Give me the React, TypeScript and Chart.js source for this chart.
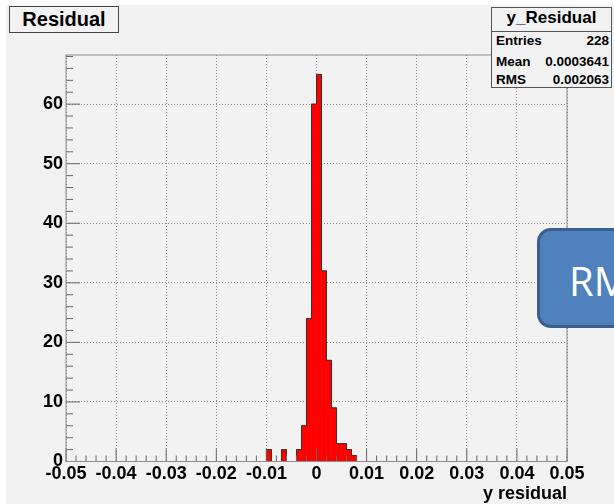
import React, { useEffect, useRef } from "react";
import { Chart, registerables } from "chart.js";

Chart.register(...registerables);

// ---- Data ----
const binLowEdges = [-0.010, -0.007, -0.004, -0.003, -0.002, -0.001, 0.000, 0.001, 0.002, 0.003, 0.004, 0.005, 0.006, 0.007];
const binCounts = [2, 2, 2, 6, 24, 60, 65, 32, 17, 9, 3, 3, 2, 1];
const binWidth = 0.001;
const xMin = -0.05;
const xMax = 0.05;
const yMax = 68.25;
const histTitle = "Residual";
const statsName = "y_Residual";
const statsLabels = ["Entries", "Mean", "RMS"];
const statsValues = ["228", "0.0003641", "0.002063"];
const xAxisTitle = "y residual";
const calloutText = "RMS";

const FONT = "'Liberation Sans', Arial, Helvetica, sans-serif";

function buildOutline() {
  const pts: { x: number; y: number | null }[] = [];
  const n = binLowEdges.length;
  for (let i = 0; i < n; i++) {
    const lo = binLowEdges[i];
    const startGroup = i === 0 || Math.abs(lo - (binLowEdges[i - 1] + binWidth)) > 1e-9;
    if (startGroup) {
      if (i > 0) pts.push({ x: lo - binWidth / 4, y: null });
      pts.push({ x: lo, y: 0 });
    }
    pts.push({ x: lo, y: binCounts[i] });
    const endGroup = i === n - 1 || Math.abs(binLowEdges[i + 1] - (lo + binWidth)) > 1e-9;
    if (endGroup) pts.push({ x: lo + binWidth, y: 0 });
  }
  return pts;
}

const frameTicksPlugin = {
  id: "frameTicks",
  afterDatasetsDraw(chart: any) {
    const { ctx, chartArea: a, scales } = chart;
    const x = scales.x;
    const y = scales.y;
    ctx.save();
    ctx.lineWidth = 1;
    ctx.strokeStyle = "#666";
    ctx.beginPath();
    for (let k = -25; k <= 25; k++) {
      const px = x.getPixelForValue(k * 0.002);
      const len = k % 5 === 0 ? 13 : 6;
      ctx.moveTo(px, a.bottom);
      ctx.lineTo(px, a.bottom - len);
    }
    for (let k = 0; k <= 34; k++) {
      const py = y.getPixelForValue(k * 2);
      const len = k % 5 === 0 ? 14 : 7;
      ctx.moveTo(a.left, py);
      ctx.lineTo(a.left + len, py);
    }
    ctx.stroke();
    ctx.strokeStyle = "#8c8c8c";
    ctx.strokeRect(a.left, a.top, a.right - a.left, a.bottom - a.top);
    ctx.restore();
  },
};

export default function App() {
  const canvasRef = useRef<HTMLCanvasElement | null>(null);

  useEffect(() => {
    if (!canvasRef.current) return;
    const barData = binLowEdges.map((lo, i) => ({ x: lo + binWidth / 2, y: binCounts[i] }));
    const chart = new Chart(canvasRef.current, {
      type: "bar",
      data: {
        datasets: [
          {
            type: "line",
            data: buildOutline(),
            borderColor: "#333",
            borderWidth: 1,
            pointRadius: 0,
            stepped: true,
            fill: false,
            spanGaps: false,
            order: 0,
          } as any,
          {
            type: "bar",
            data: barData,
            backgroundColor: "#ff0000",
            borderWidth: 0,
            barPercentage: 1,
            categoryPercentage: 1,
            order: 1,
          } as any,
        ],
      },
      options: {
        responsive: false,
        animation: false,
        devicePixelRatio: 1,
        events: [],
        layout: { padding: { top: 55, right: 47, left: 0, bottom: 0 } },
        plugins: { legend: { display: false }, tooltip: { enabled: false } },
        scales: {
          x: {
            type: "linear",
            min: xMin,
            max: xMax,
            offset: false,
            grid: { color: "#8a8a8a", lineWidth: 1, drawTicks: false, offset: false },
            border: { display: false, dash: [1, 2] },
            ticks: {
              stepSize: 0.01,
              autoSkip: false,
              maxRotation: 0,
              minRotation: 0,
              padding: 2,
              color: "#000",
              font: { family: FONT, size: 18, weight: "bold" },
              callback: (v: any) => {
                const r = Math.round(Number(v) * 1000) / 1000;
                return r === 0 ? "0" : r.toFixed(2);
              },
            },
            title: {
              display: true,
              text: xAxisTitle,
              align: "end",
              color: "#000",
              padding: { top: 0, bottom: 0 },
              font: { family: FONT, size: 18, weight: "bold", lineHeight: 1.1 },
            },
            afterFit: (s: any) => {
              s.height = 42.5;
            },
          },
          y: {
            type: "linear",
            min: 0,
            max: yMax,
            grid: { color: "#8a8a8a", lineWidth: 1, drawTicks: false },
            border: { display: false, dash: [1, 2] },
            ticks: {
              stepSize: 10,
              includeBounds: false,
              padding: 3,
              color: "#000",
              font: { family: FONT, size: 18, weight: "bold" },
              callback: (v: any) => String(Math.round(Number(v))),
            },
            afterFit: (s: any) => {
              s.width = 66;
            },
          },
        },
      } as any,
      plugins: [frameTicksPlugin],
    });
    return () => chart.destroy();
  }, []);

  return (
    <div
      style={{
        position: "fixed",
        left: 0,
        top: 0,
        width: 614,
        height: 504,
        overflow: "hidden",
        background: "#ffffff",
        fontFamily: FONT,
      }}
    >
      <div style={{ position: "absolute", left: 6, top: 5, right: 0, bottom: 0, background: "#f2f2f2" }} />
      <canvas ref={canvasRef} width={614} height={504} style={{ position: "absolute", left: 0, top: 0 }} />

      {/* Histogram title box */}
      <div
        style={{
          position: "absolute",
          left: 9,
          top: 6,
          width: 110,
          height: 27,
          boxSizing: "border-box",
          border: "1px solid #444",
          background: "#f2f2f2",
          textAlign: "center",
          fontWeight: "bold",
          fontSize: 20,
          lineHeight: "25px",
          color: "#000",
        }}
      >
        {histTitle}
      </div>

      {/* Stats box */}
      <div
        style={{
          position: "absolute",
          left: 491,
          top: 7,
          width: 121,
          height: 81,
          boxSizing: "border-box",
          border: "1px solid #555",
          background: "#f2f2f2",
          color: "#000",
          fontWeight: "bold",
        }}
      >
        <div style={{ position: "absolute", left: 0, right: 0, top: 0, height: 19, lineHeight: "19px", fontSize: 17, textAlign: "center" }}>
          {statsName}
        </div>
        <div style={{ position: "absolute", left: 0, right: 0, top: 23, height: 1, background: "#555" }} />
        {statsLabels.map((lab, i) => (
          <div
            key={lab}
            style={{
              position: "absolute",
              left: 4,
              right: 2,
              top: [25, 45.5, 64][i],
              height: 16,
              lineHeight: "16px",
              fontSize: 13.5,
              display: "flex",
              justifyContent: "space-between",
            }}
          >
            <span>{lab}</span>
            <span>{statsValues[i]}</span>
          </div>
        ))}
      </div>

      {/* Callout box cut off at right */}
      <div
        style={{
          position: "absolute",
          left: 537,
          top: 228,
          width: 200,
          height: 100,
          boxSizing: "border-box",
          border: "3px solid #3a5f8c",
          borderRadius: 14,
          background: "#4f81bd",
        }}
      />
      <div
        style={{
          position: "absolute",
          left: 569,
          top: 260.5,
          fontFamily: "'Open Sans', 'Noto Sans', sans-serif",
          fontSize: 40,
          lineHeight: "40px",
          color: "#ffffff",
          whiteSpace: "nowrap",
        }}
      >
        {calloutText}
      </div>
    </div>
  );
}
